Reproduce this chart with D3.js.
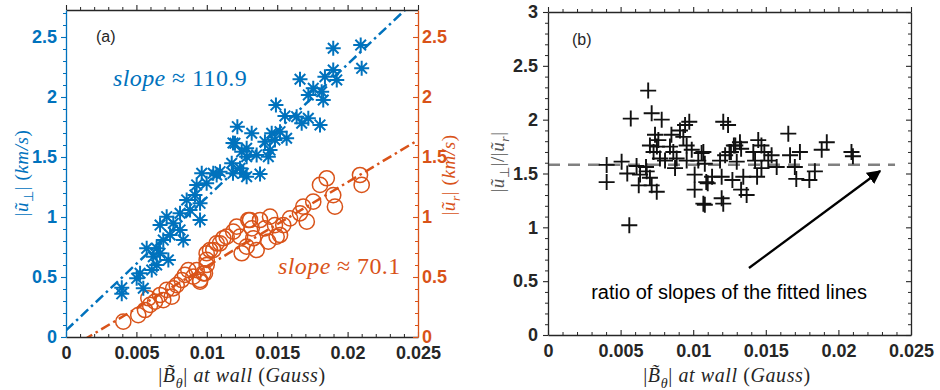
<!DOCTYPE html>
<html>
<head>
<meta charset="utf-8">
<script src="https://cdn.jsdelivr.net/npm/d3@7"></script>
<style>
body { margin: 0; background: #fff; }
svg { display: block; }
</style>
</head>
<body>
<script>
// ---- data ----
// panel (a): |u_perp| (blue stars)
const blueX = [0.01898,0.02093,0.02100,0.01662,0.01839,0.01898,0.01923,0.01756,0.01721,0.01827,0.01816,0.01491,0.01555,0.01638,0.01674,0.01721,0.01804,0.01217,0.01319,0.01461,0.01520,0.01200,0.01283,0.01413,0.01484,0.01567,0.01283,0.01354,0.01449,0.01437,0.01236,0.01177,0.01259,0.01378,0.01094,0.00964,0.01046,0.01186,0.01248,0.01070,0.01186,0.01283,0.00928,0.00999,0.00857,0.00916,0.00952,0.00810,0.00881,0.00715,0.00668,0.00762,0.00739,0.00810,0.00833,0.00952,0.00691,0.00644,0.00573,0.00620,0.00668,0.00727,0.00644,0.00526,0.00609,0.00502,0.00549,0.00396,0.00396]
const blueY = [2.406,2.433,2.239,2.148,2.169,2.225,2.142,2.073,2.017,1.975,2.044,1.933,1.842,1.836,1.781,1.823,1.767,1.753,1.698,1.698,1.711,1.614,1.573,1.628,1.642,1.656,1.503,1.517,1.558,1.503,1.406,1.448,1.364,1.358,1.378,1.364,1.364,1.617,1.544,1.350,1.364,1.336,1.267,1.281,1.142,1.183,1.114,1.031,1.058,1.003,0.933,0.948,0.850,0.892,0.808,0.975,0.808,0.739,0.739,0.669,0.698,0.642,0.600,0.531,0.558,0.489,0.406,0.410,0.360]

// panel (a): |u_r| (orange circles)
const orangeX = [0.00407,0.00513,0.00561,0.00597,0.00585,0.00632,0.00668,0.00691,0.00715,0.00762,0.00751,0.00786,0.00822,0.00845,0.00869,0.00904,0.00928,0.00952,0.00987,0.00999,0.00999,0.01023,0.01070,0.01117,0.01188,0.01236,0.01212,0.01307,0.01319,0.01283,0.01354,0.01330,0.01852,0.02088,0.02100,0.01804,0.01910,0.01898,0.01756,0.01685,0.01662,0.01710,0.01591,0.01543,0.01520,0.01484,0.01449,0.01413,0.01378,0.01295,0.01496,0.01437,0.01248,0.01141,0.01094,0.01046,0.00999,0.00975,0.00952]
const orangeY = [0.128,0.183,0.225,0.267,0.323,0.294,0.350,0.308,0.392,0.406,0.336,0.433,0.475,0.517,0.558,0.503,0.558,0.461,0.531,0.600,0.698,0.725,0.781,0.823,0.878,0.836,0.919,0.975,0.906,0.753,0.725,0.823,1.323,1.350,1.267,1.267,1.086,1.183,1.128,1.086,1.031,0.961,0.989,0.933,0.850,0.933,1.003,0.906,0.975,0.975,0.836,0.794,0.698,0.836,0.781,0.725,0.642,0.531,0.475]

// fitted lines (slope, intercept)
const fitSlopes = [110.9, 70.1]
const fitIntercepts = [0.055, -0.112]

// panel (b): ratio |u_perp|/|u_r|
const ratioX = [0.0069,0.0057,0.00714,0.00783,0.00404,0.00404,0.00507,0.00546,0.0061,0.00634,0.00625,0.00675,0.0068,0.00702,0.00714,0.00749,0.0056,0.00702,0.00737,0.0076,0.00727,0.0075,0.00771,0.00806,0.0085,0.0084,0.00863,0.00875,0.00886,0.00909,0.00932,0.00944,0.00973,0.00955,0.00955,0.0099,0.0101,0.0101,0.01035,0.01058,0.0107,0.0109,0.0113,0.01185,0.01196,0.01196,0.01207,0.0122,0.01207,0.0124,0.0125,0.0127,0.0128,0.0107,0.0108,0.0108,0.011,0.0126,0.0129,0.01322,0.0133,0.013,0.0133,0.01368,0.01345,0.01414,0.01426,0.01448,0.0147,0.0144,0.0147,0.0149,0.01517,0.0154,0.01575,0.01655,0.01667,0.017,0.0171,0.01735,0.018,0.01838,0.01885,0.0192,0.0209,0.0210]
const ratioY = [2.27,2.01,2.06,2.0,1.58,1.42,1.61,1.50,1.57,1.49,1.39,1.56,1.52,1.46,1.39,1.33,1.02,1.76,1.86,1.81,1.70,1.75,1.64,1.62,1.86,1.75,1.70,1.55,1.64,1.90,1.84,1.95,1.98,1.76,1.62,1.72,1.49,1.35,1.62,1.69,1.22,1.42,1.47,1.62,1.47,1.27,1.22,1.67,1.98,1.95,1.70,1.44,1.76,1.70,1.59,1.21,1.41,1.70,1.76,1.79,1.73,1.61,1.35,1.30,1.47,1.70,1.62,1.81,1.76,1.47,1.55,1.70,1.62,1.67,1.56,1.87,1.67,1.56,1.45,1.70,1.44,1.52,1.72,1.79,1.70,1.66]
const ratioLine = 1.582
const ratioLineX = [0, 0.0239]
const arrowFrom = [0.01384, 0.622]
const arrowTo = [0.02287, 1.523]

// ticks
const xTicks = [0, 0.005, 0.01, 0.015, 0.02, 0.025]
const xTickLabels = ["0", "0.005", "0.01", "0.015", "0.02", "0.025"]
const yTicksA = [0, 0.5, 1, 1.5, 2, 2.5]
const yTickLabelsA = ["0", "0.5", "1", "1.5", "2", "2.5"]
const yTicksB = [0, 0.5, 1, 1.5, 2, 2.5, 3]
const yTickLabelsB = ["0", "0.5", "1", "1.5", "2", "2.5", "3"]

// ---- drawing ----
const blue = "#0072BD", orange = "#D95319", dark = "#262626"
const tickFont = "'Liberation Sans', Arial, Helvetica, sans-serif"
const mathFont = "'Liberation Serif', 'Times New Roman', serif"

const svg = d3.select("body")
    .append("svg")
    .attr("width", 940)
    .attr("height", 390)

const xA = d3.scaleLinear().domain([0, 0.025]).range([66, 418])
const yA = d3.scaleLinear().domain([0, 2.725]).range([337, 10])
const xB = d3.scaleLinear().domain([0, 0.025]).range([548, 911])
const yB = d3.scaleLinear().domain([0, 3]).range([335, 12])

function styleAxis(sel, color, labelColor) {
    sel.select(".domain").attr("stroke", color).attr("stroke-width", 1.3)
    sel.selectAll(".tick line").attr("stroke", color).attr("stroke-width", 1.1)
    sel.selectAll(".tick text")
        .attr("fill", labelColor)
        .attr("font-family", tickFont)
        .attr("font-size", 18)
        .attr("font-weight", "bold")
}

// one side of a box: major ticks (with or without labels) + minor ticks
function side(g, axisFn, scale, pos, major, labels, minorStep, color, labelColor, pad) {
    const isX = (axisFn === d3.axisBottom || axisFn === d3.axisTop)
    const tr = isX ? `translate(0,${pos})` : `translate(${pos},0)`
    const inward = (axisFn === d3.axisBottom || axisFn === d3.axisRight) ? -1 : 1
    const d = scale.domain()
    const minor = d3.range(0, d[1] + 1e-9, minorStep).filter(v => !major.some(m => Math.abs(m - v) < 1e-9))
    g.append("g")
        .attr("transform", tr)
        .call(axisFn(scale).tickValues(minor).tickSize(3 * inward).tickFormat(""))
        .call(s => s.select(".domain").remove())
        .call(s => s.selectAll(".tick line").attr("stroke", color).attr("stroke-width", 1))
    const ax = g.append("g")
        .attr("transform", tr)
        .call(axisFn(scale).tickValues(major)
            .tickFormat((v, i) => labels ? labels[i] : "")
            .tickSizeInner(5 * inward)
            .tickSizeOuter(0)
            .tickPadding(pad))
    styleAxis(ax, color, labelColor)
    return ax
}

function mathText(g, x, y, parts, size, color, rotate) {
    const t = g.append("text")
        .attr("transform", `translate(${x},${y})` + (rotate ? " rotate(-90)" : ""))
        .attr("text-anchor", "middle")
        .attr("font-family", mathFont)
        .attr("font-size", size)
        .attr("letter-spacing", 0.6)
        .attr("fill", color)
    let shifted = false
    parts.forEach(p => {
        const s = t.append("tspan").text(p.t)
        if (p.i) s.attr("font-style", "italic")
        if (p.sub) {
            s.attr("font-size", size * 0.7)
            if (!shifted) s.attr("dy", size * 0.28)
            shifted = true
        } else if (shifted) {
            s.attr("dy", -size * 0.28)
            shifted = false
        }
    })
    return t
}

// ---------- panel (a) ----------
const gA = svg.append("g")

svg.append("clipPath").attr("id", "clipA")
    .append("rect").attr("x", 66).attr("y", 10).attr("width", 352).attr("height", 327)

// fitted dash-dot lines
const fitColors = [blue, orange]
fitSlopes.forEach((s, k) => {
    gA.append("line")
        .attr("clip-path", "url(#clipA)")
        .attr("x1", xA(0)).attr("y1", yA(fitIntercepts[k]))
        .attr("x2", xA(0.025)).attr("y2", yA(fitIntercepts[k] + s * 0.025))
        .attr("stroke", fitColors[k])
        .attr("stroke-width", 2.5)
        .attr("stroke-dasharray", "10,4,2.5,4")
})

// orange circles
gA.selectAll(".circ")
    .data(orangeX)
    .enter()
    .append("circle")
    .attr("class", "circ")
    .attr("cx", d => xA(d))
    .attr("cy", (d, i) => yA(orangeY[i]))
    .attr("r", 7.6)
    .attr("fill", "none")
    .attr("stroke", orange)
    .attr("stroke-width", 1.5)

// blue asterisks (plus + cross)
const ast = "M-7.5,0L7.5,0M0,-7.5L0,7.5M-5.3,-5.3L5.3,5.3M-5.3,5.3L5.3,-5.3"
gA.selectAll(".ast")
    .data(blueX)
    .enter()
    .append("path")
    .attr("class", "ast")
    .attr("d", ast)
    .attr("transform", (d, i) => `translate(${xA(d)},${yA(blueY[i])})`)
    .attr("fill", "none")
    .attr("stroke", blue)
    .attr("stroke-width", 2)

// axes of panel (a)
side(gA, d3.axisTop, xA, 10, xTicks, null, 0.001, dark, dark, 0)
side(gA, d3.axisBottom, xA, 337, xTicks, xTickLabels, 0.001, dark, dark, 9)
side(gA, d3.axisLeft, yA, 66, yTicksA, yTickLabelsA, 0.1, blue, blue, 4)
side(gA, d3.axisRight, yA, 418, yTicksA, yTickLabelsA, 0.1, orange, orange, 4)

gA.append("text")
    .attr("x", 96).attr("y", 42)
    .attr("font-family", tickFont).attr("font-size", 16).attr("fill", dark)
    .text("(a)")

const slopeBlue = gA.append("text")
    .attr("x", xA(0.00334)).attr("y", yA(2.09))
    .attr("font-family", mathFont).attr("font-size", 24).attr("letter-spacing", 0.4).attr("fill", blue)
slopeBlue.append("tspan").attr("font-style", "italic").text("slope")
slopeBlue.append("tspan").text(" ≈ " + fitSlopes[0])

const slopeOrange = gA.append("text")
    .attr("x", xA(0.01506)).attr("y", yA(0.525))
    .attr("font-family", mathFont).attr("font-size", 24).attr("letter-spacing", 0.4).attr("fill", orange)
slopeOrange.append("tspan").attr("font-style", "italic").text("slope")
slopeOrange.append("tspan").text(" ≈ " + fitSlopes[1])

mathText(gA, 28, 173, [{t: "|"}, {t: "u\u0303", i: 1}, {t: "⊥", sub: 1}, {t: "| "}, {t: "("}, {t: "km/s", i: 1}, {t: ")"}], 19, blue, true)
mathText(gA, 455, 175, [{t: "|"}, {t: "u\u0303", i: 1}, {t: "r", i: 1, sub: 1}, {t: "| "}, {t: "("}, {t: "km/s", i: 1}, {t: ")"}], 19, orange, true)
mathText(gA, 242, 382, [{t: "|"}, {t: "B\u0303", i: 1}, {t: "θ", i: 1, sub: 1}, {t: "| "}, {t: "at wall ", i: 1}, {t: "("}, {t: "Gauss", i: 1}, {t: ")"}], 20, dark, false)

// ---------- panel (b) ----------
const gB = svg.append("g")

gB.append("line")
    .attr("x1", xB(ratioLineX[0])).attr("y1", yB(ratioLine))
    .attr("x2", xB(ratioLineX[1])).attr("y2", yB(ratioLine))
    .attr("stroke", "#808080")
    .attr("stroke-width", 2.5)
    .attr("stroke-dasharray", "12,8")

gB.selectAll(".plus")
    .data(ratioX)
    .enter()
    .append("path")
    .attr("class", "plus")
    .attr("d", "M-8,0L8,0M0,-8L0,8")
    .attr("transform", (d, i) => `translate(${xB(d)},${yB(ratioY[i])})`)
    .attr("fill", "none")
    .attr("stroke", "#111")
    .attr("stroke-width", 1.9)

side(gB, d3.axisTop, xB, 12, xTicks, null, 0.001, dark, dark, 0)
side(gB, d3.axisBottom, xB, 335, xTicks, xTickLabels, 0.001, dark, dark, 9)
side(gB, d3.axisLeft, yB, 548, yTicksB, yTickLabelsB, 0.1, dark, dark, 5)
side(gB, d3.axisRight, yB, 911, yTicksB, null, 0.1, dark, dark, 0)

// arrow
svg.append("defs").append("marker")
    .attr("id", "head")
    .attr("viewBox", "0 0 10 10")
    .attr("refX", 9).attr("refY", 5)
    .attr("markerWidth", 6).attr("markerHeight", 6)
    .attr("markerUnits", "strokeWidth")
    .attr("orient", "auto")
    .append("path").attr("d", "M0,0L10,5L0,10Z").attr("fill", "#000")

gB.append("line")
    .attr("x1", xB(arrowFrom[0])).attr("y1", yB(arrowFrom[1]))
    .attr("x2", xB(arrowTo[0])).attr("y2", yB(arrowTo[1]))
    .attr("stroke", "#000")
    .attr("stroke-width", 2.3)
    .attr("marker-end", "url(#head)")

gB.append("text")
    .attr("x", xB(0.01247)).attr("y", yB(0.334))
    .attr("text-anchor", "middle")
    .attr("font-family", tickFont).attr("font-size", 20).attr("fill", "#000")
    .text("ratio of slopes of the fitted lines")

gB.append("text")
    .attr("x", 572).attr("y", 45)
    .attr("font-family", tickFont).attr("font-size", 16).attr("fill", dark)
    .text("(b)")

mathText(gB, 504, 162, [{t: "|"}, {t: "u\u0303", i: 1}, {t: "⊥", sub: 1}, {t: "|/|"}, {t: "u\u0303", i: 1}, {t: "r", i: 1, sub: 1}, {t: "|"}], 19, "#555", true)
mathText(gB, 727, 382, [{t: "|"}, {t: "B\u0303", i: 1}, {t: "θ", i: 1, sub: 1}, {t: "| "}, {t: "at wall ", i: 1}, {t: "("}, {t: "Gauss", i: 1}, {t: ")"}], 20, dark, false)
</script>
</body>
</html>
